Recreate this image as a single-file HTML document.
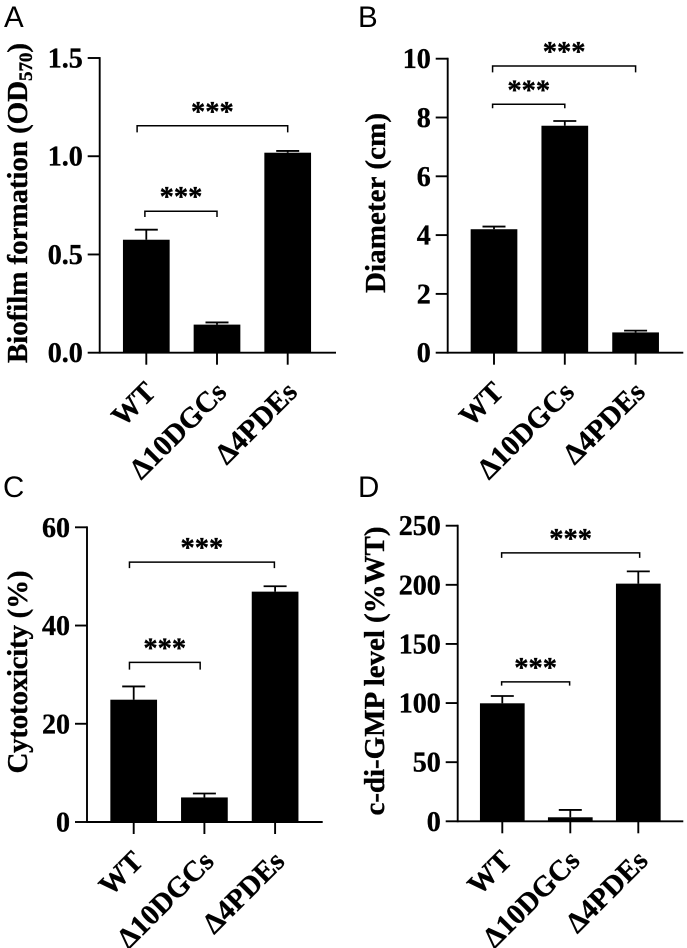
<!DOCTYPE html>
<html lang="en">
<head>
<meta charset="utf-8">
<title>Four bar chart panels</title>
<style>
html,body{margin:0;padding:0;background:#fff;width:687px;height:948px;overflow:hidden}
svg{display:block}
text{font-family:"Liberation Serif",serif;font-weight:700;fill:#000;stroke:#000;stroke-width:.35px}
.panel-letter{font-family:"Liberation Sans",sans-serif;font-weight:400;font-size:29.5px;stroke:none}
</style>
</head>
<body>
<svg id="figure" xmlns="http://www.w3.org/2000/svg" width="687" height="948" viewBox="0 0 687 948">
<rect width="687" height="948" fill="#fff"/>
<text class="panel-letter" x="4" y="27">A</text>
<text class="panel-letter" x="358" y="27">B</text>
<text class="panel-letter" x="3" y="497">C</text>
<text class="panel-letter" x="358" y="497">D</text>
<text transform="translate(27,203) rotate(-90)" text-anchor="middle" font-size="29" textLength="320">Biofilm formation (OD<tspan font-size="19" dy="5">570</tspan><tspan dy="-5">)</tspan></text>
<text transform="translate(385,203) rotate(-90)" text-anchor="middle" font-size="29" textLength="180">Diameter (cm)</text>
<text transform="translate(27,672) rotate(-90)" text-anchor="middle" font-size="29" textLength="203">Cytotoxicity (%)</text>
<text transform="translate(384,671) rotate(-90)" text-anchor="middle" font-size="29" textLength="289">c-di-GMP level (%WT)</text>
</svg>
<script>
const categories = ['WT', '\u039410DGCs', '\u03944PDEs'];

const biofilmValues = [0.575, 0.143, 1.018];
const biofilmErrors = [0.051, 0.011, 0.009];
const biofilmTicks = [0, 0.5, 1, 1.5];
const biofilmTickLabels = ['0.0', '0.5', '1.0', '1.5'];
const biofilmBracketLevels = [0.72, 1.155];
const biofilmBracketStarts = [-0.02, -0.13];
const biofilmBracketEnds = [1, 2];

const diameterValues = [4.2, 7.72, 0.69];
const diameterErrors = [0.09, 0.16, 0.06];
const diameterTicks = [0, 2, 4, 6, 8, 10];
const diameterTickLabels = ['0', '2', '4', '6', '8', '10'];
const diameterBracketLevels = [8.45, 9.75];
const diameterBracketStarts = [-0.02, -0.02];
const diameterBracketEnds = [1, 2];

const cytotoxicityValues = [24.9, 5.0, 46.9];
const cytotoxicityErrors = [2.7, 0.8, 1.1];
const cytotoxicityTicks = [0, 20, 40, 60];
const cytotoxicityTickLabels = ['0', '20', '40', '60'];
const cytotoxicityBracketLevels = [32.5, 52.9];
const cytotoxicityBracketStarts = [-0.06, -0.06];
const cytotoxicityBracketEnds = [0.94, 1.99];

const cdgValues = [99.8, 3.4, 201];
const cdgErrors = [6.2, 6.2, 10.4];
const cdgTicks = [0, 50, 100, 150, 200, 250];
const cdgTickLabels = ['0', '50', '100', '150', '200', '250'];
const cdgBracketLevels = [117.9, 227];
const cdgBracketStarts = [-0.01, -0.01];
const cdgBracketEnds = [0.99, 2.02];

const SVG_NS = 'http://www.w3.org/2000/svg';
const figure = document.getElementById('figure');

function make(tag, parent) {
  const el = document.createElementNS(SVG_NS, tag);
  parent.appendChild(el);
  return el;
}

function segment(el, x1, y1, x2, y2, width) {
  el.setAttribute('x1', x1);
  el.setAttribute('y1', y1);
  el.setAttribute('x2', x2);
  el.setAttribute('y2', y2);
  el.setAttribute('stroke', '#000');
  el.setAttribute('stroke-width', width);
}

function drawPanel(id, frame, values, errors, ticks, tickLabels, levels, starts, ends) {
  const yScale = function (v) {
    return frame.yBase - (v / frame.yMax) * (frame.yBase - frame.yTop);
  };
  const xScale = function (i) {
    return frame.xFirst + i * frame.xStep;
  };

  const group = make('g', figure);
  
  

  values.forEach(function (v, i) {
    const cx = xScale(i);
    const top = yScale(v);
    const errTop = yScale(v + errors[i]);

    const stem = make('line', group);
    
    
    segment(stem, cx, top, cx, errTop, 1.8);

    const cap = make('line', group);
    
    
    segment(cap, cx - 11.5, errTop, cx + 11.5, errTop, 1.8);

    const bar = make('rect', group);
    
    
    bar.setAttribute('x', cx - frame.barWidth / 2);
    bar.setAttribute('y', top);
    bar.setAttribute('width', frame.barWidth);
    bar.setAttribute('height', frame.yBase - top);
    bar.setAttribute('fill', '#000');
  });

  const yAxis = make('line', group);
  
  
  segment(yAxis, frame.xAxis, frame.yTop - 0.9, frame.xAxis, frame.yBase + 0.9, 1.9);

  const xAxis = make('line', group);
  
  
  segment(xAxis, frame.xAxis, frame.yBase, frame.xRight, frame.yBase, 1.9);

  ticks.forEach(function (t, i) {
    const y = yScale(t);

    const tick = make('line', group);
    
    
    segment(tick, frame.xAxis - 12, y, frame.xAxis, y, 1.9);

    const label = make('text', group);
    
    
    label.setAttribute('x', frame.xAxis - 17);
    label.setAttribute('y', y + 9.5);
    label.setAttribute('text-anchor', 'end');
    label.setAttribute('font-size', '28');
    label.textContent = tickLabels[i];
  });

  categories.forEach(function (name, i) {
    const cx = xScale(i);

    const tick = make('line', group);
    
    
    segment(tick, cx, frame.yBase, cx, frame.yBase + 12, 1.9);

    const label = make('text', group);
    
    
    label.setAttribute('transform', 'translate(' + (cx + 11) + ',' + (frame.yBase + 41) + ') rotate(-45)');
    label.setAttribute('text-anchor', 'end');
    label.setAttribute('font-size', '29');
    label.textContent = name;
  });

  levels.forEach(function (level, i) {
    const y = yScale(level);
    const xa = xScale(starts[i]);
    const xb = xScale(ends[i]);
    const drop = frame.drops[i];

    const bracket = make('path', group);
    
    
    bracket.setAttribute('d', 'M' + xa + ' ' + (y + drop) + 'V' + y + 'H' + xb + 'V' + (y + drop));
    bracket.setAttribute('fill', 'none');
    bracket.setAttribute('stroke', '#000');
    bracket.setAttribute('stroke-width', '1.5');

    const stars = make('text', group);
    
    
    stars.setAttribute('x', (xa + xb) / 2);
    stars.setAttribute('y', y - 5);
    stars.setAttribute('text-anchor', 'middle');
    stars.setAttribute('font-size', '28.5');
    stars.textContent = '***';
  });
}

drawPanel('a', { xAxis: 99.7, xRight: 336, yBase: 352.7, yTop: 58, yMax: 1.5, xFirst: 146.3, xStep: 70.7, barWidth: 46.7, drops: [5.7, 6.6] },
  biofilmValues, biofilmErrors, biofilmTicks, biofilmTickLabels, biofilmBracketLevels, biofilmBracketStarts, biofilmBracketEnds);

drawPanel('b', { xAxis: 447.7, xRight: 683.3, yBase: 352.7, yTop: 58.7, yMax: 10, xFirst: 494, xStep: 70.8, barWidth: 46.7, drops: [4, 6.3] },
  diameterValues, diameterErrors, diameterTicks, diameterTickLabels, diameterBracketLevels, diameterBracketStarts, diameterBracketEnds);

drawPanel('c', { xAxis: 87, xRight: 322.7, yBase: 822, yTop: 527.3, yMax: 60, xFirst: 133.7, xStep: 70.7, barWidth: 46.7, drops: [7.3, 6] },
  cytotoxicityValues, cytotoxicityErrors, cytotoxicityTicks, cytotoxicityTickLabels, cytotoxicityBracketLevels, cytotoxicityBracketStarts, cytotoxicityBracketEnds);

drawPanel('d', { xAxis: 457.7, xRight: 683.3, yBase: 821.3, yTop: 525.7, yMax: 250, xFirst: 502.3, xStep: 68, barWidth: 44.7, drops: [3.7, 5] },
  cdgValues, cdgErrors, cdgTicks, cdgTickLabels, cdgBracketLevels, cdgBracketStarts, cdgBracketEnds);
</script>
</body>
</html>
